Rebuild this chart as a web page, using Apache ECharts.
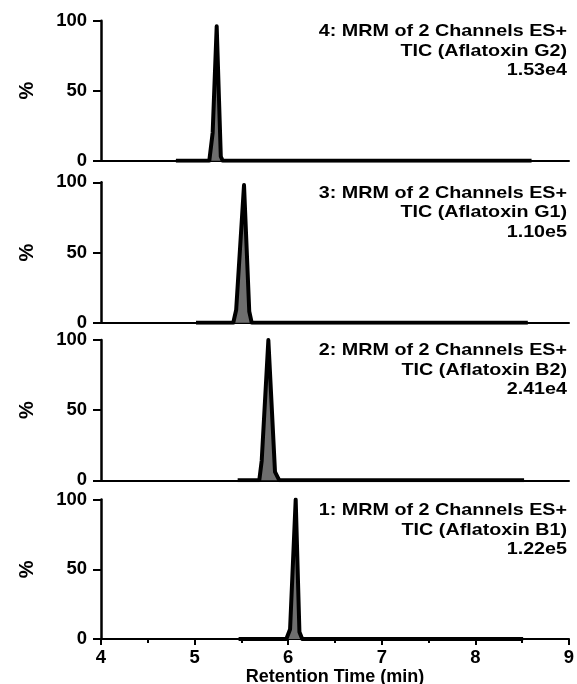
<!DOCTYPE html>
<html>
<head>
<meta charset="utf-8">
<script src="https://cdn.jsdelivr.net/npm/echarts@6/dist/echarts.min.js"></script>
<style>
  html, body { margin: 0; padding: 0; background: #fff; }
  #chart { width: 577px; height: 684px; }
</style>
</head>
<body>
<div id="chart"></div>
<script>
window.addEventListener('load', () => {

// chromatogram traces, [time (min), % ]
const traceG2 = [[4.80, 0], [5.157, 0], [5.193, 20], [5.236, 96], [5.28, 3], [5.30, 0], [8.60, 0]];
const traceG1 = [[5.015, 0], [5.413, 0], [5.444, 9], [5.528, 98], [5.584, 8], [5.61, 0], [8.56, 0]];
const traceB2 = [[5.46, 0], [5.691, 0], [5.717, 14], [5.788, 100], [5.859, 6], [5.905, 0], [8.52, 0]];
const traceB1 = [[5.47, 0], [5.98, 0], [6.02, 7], [6.08, 100], [6.12, 5], [6.15, 0], [8.51, 0]];

const traces = [traceG2, traceG1, traceB2, traceB1];

const labels = [
  ['4: MRM of 2 Channels ES+', 'TIC (Aflatoxin G2)', '1.53e4'],
  ['3: MRM of 2 Channels ES+', 'TIC (Aflatoxin G1)', '1.10e5'],
  ['2: MRM of 2 Channels ES+', 'TIC (Aflatoxin B2)', '2.41e4'],
  ['1: MRM of 2 Channels ES+', 'TIC (Aflatoxin B1)', '1.22e5']
];

const yTicks = [0, 50, 100];
const xRange = [4, 9];

  /////////////////////////////////////////

const FONT = '"Liberation Sans", Arial, sans-serif';

// panel top (100%) and bottom (0%) in px
const panels = [[20.7, 160.7], [182.3, 322.7], [340, 480.3], [499.6, 639]];

const grids = [], xAxes = [], yAxes = [], series = [], graphics = [];

panels.forEach((p, i) => {
  const last = i === panels.length - 1;
  grids.push({ left: 101, right: 8, top: p[0], height: p[1] - p[0], outerBoundsMode: 'none' });

  xAxes.push({
    type: 'value', gridIndex: i, min: xRange[0], max: xRange[1], interval: 1,
    axisLine: { show: true, lineStyle: { color: '#000', width: 2 } },
    axisTick: { show: last, length: 6, lineStyle: { color: '#000', width: 2 } },
    minorTick: { show: last, splitNumber: 2, length: 4, lineStyle: { color: '#000', width: 2 } },
    axisLabel: { show: last, color: '#000', fontWeight: 'bold', fontSize: 18.5, fontFamily: FONT, margin: 9 },
    splitLine: { show: false },
    name: last ? 'Retention Time (min)' : '',
    nameLocation: 'middle', nameGap: 26,
    nameTextStyle: { color: '#000', fontWeight: 'bold', fontSize: 18, fontFamily: FONT }
  });

  yAxes.push({
    type: 'value', gridIndex: i, min: yTicks[0], max: yTicks[yTicks.length - 1], interval: 50,
    axisLine: { show: true, lineStyle: { color: '#000', width: 2.5 } },
    axisTick: { show: true, length: 8, lineStyle: { color: '#000', width: 2 } },
    axisLabel: { color: '#000', fontWeight: 'bold', fontSize: 18.5, fontFamily: FONT, margin: 14 },
    splitLine: { show: false },
    name: '%', nameLocation: 'middle', nameRotate: 90, nameGap: 64,
    nameTextStyle: { color: '#000', fontWeight: 'bold', fontSize: 20, fontFamily: FONT }
  });

  series.push({
    type: 'line', xAxisIndex: i, yAxisIndex: i, data: traces[i],
    showSymbol: false, symbol: 'none', silent: true,
    lineStyle: { color: '#000', width: 4, join: 'round' },
    areaStyle: { color: '#6e6e6e', opacity: 1 }
  });

  // stretched a bit wider, like the reference lettering
  graphics.push({
    type: 'text', x: 567, y: p[0] + 1, scaleX: 1.16,
    style: {
      text: labels[i].join('\n'), align: 'right', verticalAlign: 'top', fill: '#000',
      font: 'bold 17px ' + FONT, lineHeight: 19.5
    }
  });
});

const chart = echarts.init(document.getElementById('chart'));
chart.setOption({
  animation: false,
  grid: grids,
  xAxis: xAxes,
  yAxis: yAxes,
  series: series,
  graphic: graphics
});

});
</script>
</body>
</html>
